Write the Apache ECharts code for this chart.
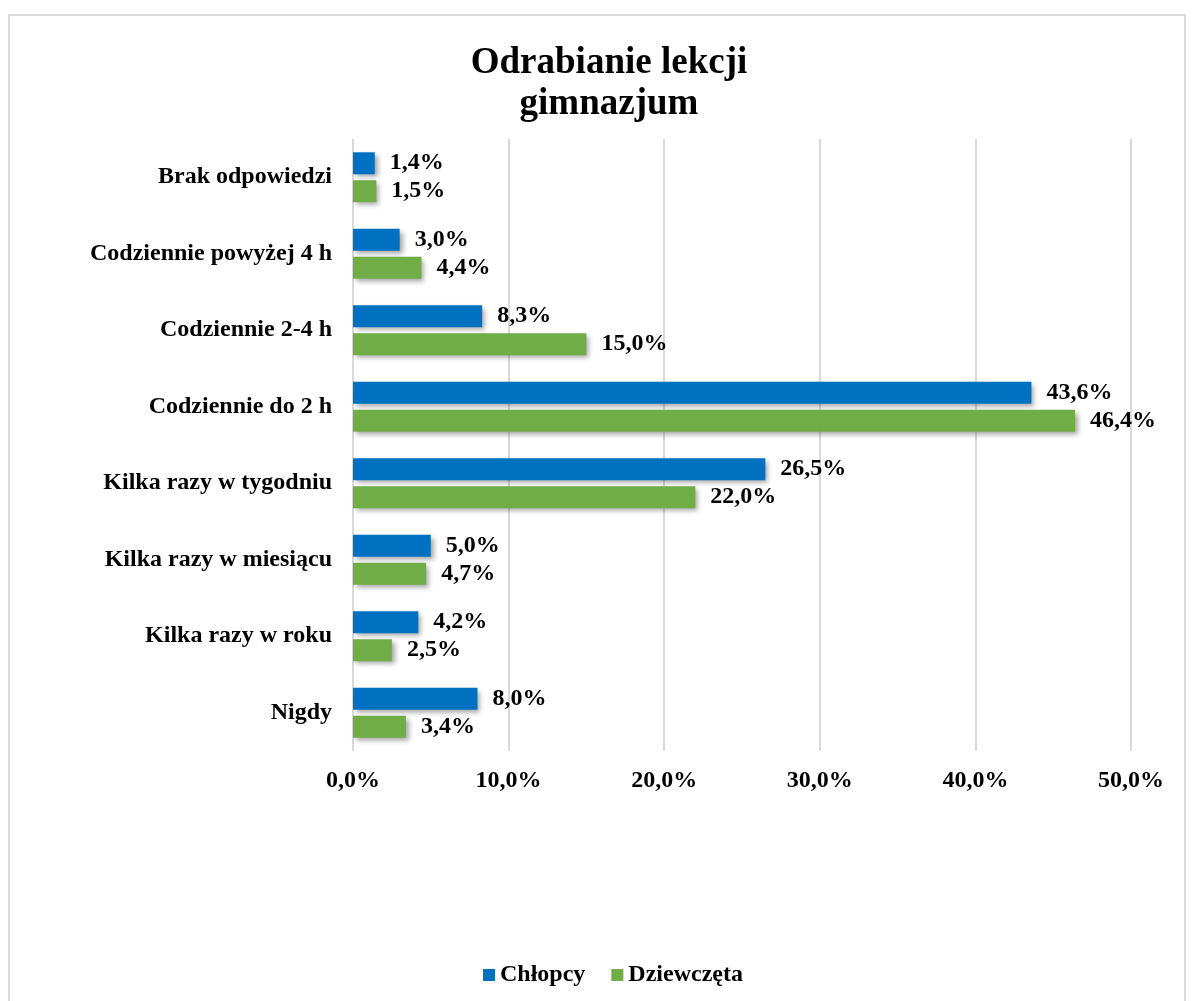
<!DOCTYPE html>
<html>
<head>
<meta charset="utf-8">
<script src="https://cdn.jsdelivr.net/npm/echarts@6/dist/echarts.min.js"></script>
<style>
  html, body { margin: 0; padding: 0; background: #fff; }
  #chart { width: 1193px; height: 1001px; }
</style>
</head>
<body>
<div id="chart"></div>
<script>
// kategorie od góry do dołu
const categories = [
  'Brak odpowiedzi',
  'Codziennie powyżej 4 h',
  'Codziennie 2-4 h',
  'Codziennie do 2 h',
  'Kilka razy w tygodniu',
  'Kilka razy w miesiącu',
  'Kilka razy w roku',
  'Nigdy'
];
const chlopcy = [1.4, 3.0, 8.3, 43.6, 26.5, 5.0, 4.2, 8.0];
const dziewczeta = [1.5, 4.4, 15.0, 46.4, 22.0, 4.7, 2.5, 3.4];
const xTicks = { min: 0, max: 50, interval: 10 };

const font = 'Liberation Serif, Times New Roman, serif';
const pct = v => Number(v).toFixed(1).replace('.', ',') + '%';

const chart = echarts.init(document.getElementById('chart'));

function barSeries(name, data, color) {
  return {
    name: name,
    type: 'bar',
    data: data,
    barWidth: 22,
    barGap: '27%',
    itemStyle: {
      color: color,
      shadowBlur: 5,
      shadowOffsetX: 3,
      shadowOffsetY: 3,
      shadowColor: 'rgba(0,0,0,0.35)'
    },
    label: {
      show: true,
      position: 'right',
      distance: 15,
      color: '#000',
      fontFamily: font,
      fontWeight: 'bold',
      fontSize: 24,
      formatter: p => pct(p.value)
    }
  };
}

chart.setOption({
  animation: false,
  backgroundColor: '#fff',
  title: {
    text: 'Odrabianie lekcji\ngimnazjum',
    left: 604,
    top: 38,
    textAlign: 'center',
    textStyle: {
      fontFamily: font,
      fontWeight: 'bold',
      fontSize: 37,
      lineHeight: 41,
      color: '#000'
    }
  },
  graphic: [{
    type: 'rect',
    shape: { x: 9, y: 15, width: 1176, height: 1000 },
    style: { fill: 'none', stroke: '#d9d9d9', lineWidth: 2 },
    silent: true
  }],
  legend: {
    bottom: 9,
    left: 478,
    icon: 'rect',
    itemWidth: 12,
    itemHeight: 12,
    itemGap: 26,
    textStyle: {
      fontFamily: font,
      fontWeight: 'bold',
      fontSize: 24,
      color: '#000'
    },
    data: ['Chłopcy', 'Dziewczęta']
  },
  grid: {
    left: 353,
    right: 62,
    top: 139,
    bottom: 250
  },
  xAxis: {
    type: 'value',
    min: xTicks.min,
    max: xTicks.max,
    interval: xTicks.interval,
    axisLine: { show: false },
    axisTick: { show: false },
    splitLine: { show: true, lineStyle: { color: '#d9d9d9', width: 2 } },
    axisLabel: {
      margin: 18,
      color: '#000',
      fontFamily: font,
      fontWeight: 'bold',
      fontSize: 24,
      formatter: v => pct(v)
    }
  },
  yAxis: {
    type: 'category',
    inverse: true,
    data: categories,
    axisLine: { show: false },
    axisTick: { show: false },
    axisLabel: {
      margin: 21,
      color: '#000',
      fontFamily: font,
      fontWeight: 'bold',
      fontSize: 24
    }
  },
  series: [
    barSeries('Chłopcy', chlopcy, '#0070C0'),
    barSeries('Dziewczęta', dziewczeta, '#70AD47')
  ]
});
</script>
</body>
</html>
